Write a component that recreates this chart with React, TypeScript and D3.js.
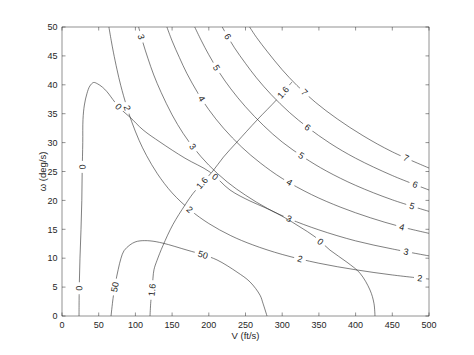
import React from "react";
import * as d3 from "d3";

type Pt = [number, number];

const xTicks = [0, 50, 100, 150, 200, 250, 300, 350, 400, 450, 500];
const yTicks = [0, 5, 10, 15, 20, 25, 30, 35, 40, 45, 50];

// load factor contours (n = 2 .. 7)
const n2: Pt[] = [[63.9, 50], [67, 47.7], [70, 45.65], [75, 42.6], [80, 39.9], [88, 36.3], [95, 33.6], [105, 30.4], [115, 27.8], [130, 24.6], [150, 21.3], [175, 18.3], [200, 16.0], [230, 13.9], [260, 12.3], [300, 10.65], [350, 9.13], [400, 8.0], [450, 7.1], [500, 6.39]];
const n3: Pt[] = [[104.4, 50], [110, 47.4], [117, 44.6], [125, 41.7], [135, 38.7], [150, 34.8], [165, 31.6], [180, 29.0], [200, 26.1], [225, 23.2], [250, 20.9], [280, 18.6], [310, 16.8], [350, 14.9], [400, 13.0], [450, 11.6], [500, 10.4]];
const n4: Pt[] = [[142.9, 50], [150, 47.6], [160, 44.7], [170, 42.0], [185, 38.6], [200, 35.7], [220, 32.5], [245, 29.2], [270, 26.5], [300, 23.8], [340, 21.0], [380, 18.8], [420, 17.0], [460, 15.5], [500, 14.3]];
const n5: Pt[] = [[180.8, 50], [190, 47.6], [200, 45.2], [215, 42.0], [230, 39.3], [250, 36.2], [275, 32.9], [300, 30.1], [330, 27.4], [360, 25.1], [400, 22.6], [450, 20.1], [500, 18.1]];
const n6: Pt[] = [[218.3, 50], [225, 48.5], [235, 46.4], [250, 43.7], [265, 41.2], [285, 38.3], [310, 35.2], [335, 32.6], [365, 29.9], [400, 27.3], [450, 24.3], [500, 21.8]];
const n7: Pt[] = [[255.6, 50], [265, 48.2], [280, 45.7], [300, 42.6], [320, 39.9], [345, 37.0], [375, 34.1], [410, 31.2], [450, 28.4], [500, 25.6]];

// CLmax = 1.6 boundary
const cl16: Pt[] = [[119.9, 0], [121, 2.5], [123, 5], [125.3, 8.0], [129.4, 9.6], [137.6, 12.2], [151, 15.8], [167.6, 19.2], [178.5, 21.2], [190.7, 23.0], [204.4, 24.9], [220, 27.5], [238.4, 30.1], [265.7, 33.9], [293, 37.5], [313.4, 40.5]];

// specific excess power contours (0 and 50)
const ps0: Pt[] = [[23.2, 0], [23.5, 5], [24.5, 10], [25.9, 15], [27, 20], [27.5, 25], [28.3, 30], [28.6, 34], [30.5, 36.5], [34, 38.5], [38, 39.8], [43, 40.4], [48, 40.2], [55, 39.6], [61.3, 38.8], [72, 37.0], [80, 35.8], [92.6, 34.4], [110.4, 32.2], [133.5, 30.1], [167.6, 27.3], [201.6, 24.9], [228.9, 21.8], [256.1, 19.9], [276.6, 18.75], [292, 17.8], [305, 16.9], [324.3, 15.4], [344.7, 13.7], [365.1, 11.4], [388.3, 9.3], [406, 7.4], [419.6, 4.5], [425, 2.2], [426.4, 0]];
const ps50: Pt[] = [[66.8, 0], [69.5, 3], [72.5, 5.5], [76.5, 8.0], [80.4, 10.0], [84.5, 11.3], [92.6, 12.3], [99.5, 12.8], [106.3, 13.0], [119.9, 13.0], [137.6, 12.6], [170.3, 11.4], [192, 10.6], [211.2, 9.7], [238.4, 7.6], [256.1, 5.9], [269.8, 3.6], [273.8, 2.2], [279.3, 0]];

// label anchor positions (V, omega)
const n2Labels: Pt[] = [[88.6, 36.0], [173, 18.3], [324.3, 9.9], [487.7, 6.6]];
const n3Labels: Pt[] = [[107.6, 48.3], [177, 29.2], [309.3, 16.8], [468.7, 11.1]];
const n4Labels: Pt[] = [[188, 37.4], [309.3, 23.0], [463.2, 15.4]];
const n5Labels: Pt[] = [[209.8, 42.9], [325.6, 27.7], [476.8, 19.0]];
const n6Labels: Pt[] = [[224.8, 48.3], [333.8, 32.5], [481, 22.7]];
const n7Labels: Pt[] = [[331, 38.8], [468.7, 27.3]];
const cl16Labels: Pt[] = [[122.5, 4.5], [190.7, 23.0], [301, 38.7]];
const ps0Labels: Pt[] = [[23.4, 4.8], [27.3, 25.8], [77.7, 36.3], [208, 24.0], [352.9, 13.0]];
const ps50Labels: Pt[] = [[72.2, 5.0], [192, 10.6]];

const contourNames = ["2", "3", "4", "5", "6", "7", "1.6", "0", "50"];
const contourPts = [n2, n3, n4, n5, n6, n7, cl16, ps0, ps50];
const contourLabels = [n2Labels, n3Labels, n4Labels, n5Labels, n6Labels, n7Labels, cl16Labels, ps0Labels, ps50Labels];

const W = 474;
const H = 355;
const X0 = 62, X1 = 429, Y0 = 27, Y1 = 316;
const FS = 9;
const TEXT = "#262626";
const LINE = "#2a2a2a";

function textWidth(s: string, fs: number) {
  let w = 0;
  for (const c of s) w += c === "." ? 0.278 : 0.556;
  return w * fs;
}

function nearest(px: Pt[], t: Pt) {
  let best = { d: Infinity, x: 0, y: 0, ang: 0 };
  for (let i = 0; i < px.length - 1; i++) {
    const [ax, ay] = px[i];
    const [bx, by] = px[i + 1];
    const dx = bx - ax, dy = by - ay;
    const L2 = dx * dx + dy * dy || 1;
    let u = ((t[0] - ax) * dx + (t[1] - ay) * dy) / L2;
    u = Math.max(0, Math.min(1, u));
    const qx = ax + u * dx, qy = ay + u * dy;
    const d = Math.hypot(qx - t[0], qy - t[1]);
    if (d < best.d) {
      const p0 = px[Math.max(0, i - (u < 0.5 ? 1 : 0))];
      const p1 = px[Math.min(px.length - 1, i + 1 + (u >= 0.5 ? 1 : 0))];
      let tx = (p1[0] - p0[0]) * 0.5 + dx * 0.5;
      let ty = (p1[1] - p0[1]) * 0.5 + dy * 0.5;
      if (tx < 0) { tx = -tx; ty = -ty; }
      best = { d, x: qx, y: qy, ang: (Math.atan2(ty, tx) * 180) / Math.PI };
    }
  }
  return best;
}

export default function App() {
  const x = d3.scaleLinear().domain([0, 500]).range([X0, X1]);
  const y = d3.scaleLinear().domain([0, 50]).range([Y1, Y0]);
  const line = d3
    .line<Pt>()
    .x((d) => x(d[0]))
    .y((d) => y(d[1]))
    .curve(d3.curveCatmullRom.alpha(0.5));

  const tick = 3.5;

  return (
    <svg
      width={W}
      height={H}
      style={{ position: "absolute", left: 0, top: 0, background: "#fff" }}
      fontFamily="'Liberation Sans', Arial, Helvetica, sans-serif"
    >
      <defs>
        <clipPath id="plotclip">
          <rect x={X0} y={Y0} width={X1 - X0} height={Y1 - Y0} />
        </clipPath>
        {contourPts.map((pts, ci) => {
          const px: Pt[] = pts.map((p) => [x(p[0]), y(p[1])]);
          const name = contourNames[ci];
          const gw = textWidth(name, FS) + 7;
          return (
            <mask id={`m${ci}`} key={ci} maskUnits="userSpaceOnUse" x={0} y={0} width={W} height={H}>
              <rect x={0} y={0} width={W} height={H} fill="#fff" />
              {contourLabels[ci].map((lp, li) => {
                const n = nearest(px, [x(lp[0]), y(lp[1])]);
                return (
                  <rect
                    key={li}
                    x={-gw / 2}
                    y={-FS * 0.6}
                    width={gw}
                    height={FS * 1.2}
                    fill="#000"
                    transform={`translate(${n.x},${n.y}) rotate(${n.ang})`}
                  />
                );
              })}
            </mask>
          );
        })}
      </defs>

      <rect x={0} y={0} width={W} height={H} fill="#fff" />

      <g clipPath="url(#plotclip)">
        {contourPts.map((pts, ci) => (
          <path
            key={ci}
            d={line(pts) || ""}
            fill="none"
            stroke={LINE}
            strokeWidth={0.6}
            mask={`url(#m${ci})`}
          />
        ))}
      </g>

      {contourPts.map((pts, ci) => {
        const px: Pt[] = pts.map((p) => [x(p[0]), y(p[1])]);
        return contourLabels[ci].map((lp, li) => {
          const n = nearest(px, [x(lp[0]), y(lp[1])]);
          return (
            <text
              key={`${ci}-${li}`}
              transform={`translate(${n.x},${n.y}) rotate(${n.ang})`}
              textAnchor="middle"
              dy="0.35em"
              fontSize={FS}
              fill={TEXT}
            >
              {contourNames[ci]}
            </text>
          );
        });
      })}

      <rect x={X0} y={Y0} width={X1 - X0} height={Y1 - Y0} fill="none" stroke={TEXT} strokeWidth={0.5} />

      {xTicks.map((t) => (
        <g key={`xt${t}`}>
          <line x1={x(t)} x2={x(t)} y1={Y1} y2={Y1 - tick} stroke={TEXT} strokeWidth={0.5} />
          <line x1={x(t)} x2={x(t)} y1={Y0} y2={Y0 + tick} stroke={TEXT} strokeWidth={0.5} />
          <text x={x(t)} y={Y1 + 11.8} textAnchor="middle" fontSize={FS} fill={TEXT}>
            {t}
          </text>
        </g>
      ))}
      {yTicks.map((t) => (
        <g key={`yt${t}`}>
          <line x1={X0} x2={X0 + tick} y1={y(t)} y2={y(t)} stroke={TEXT} strokeWidth={0.5} />
          <line x1={X1} x2={X1 - tick} y1={y(t)} y2={y(t)} stroke={TEXT} strokeWidth={0.5} />
          <text x={X0 - 4.5} y={y(t) + 3.2} textAnchor="end" fontSize={FS} fill={TEXT}>
            {t}
          </text>
        </g>
      ))}

      <text x={(X0 + X1) / 2} y={339} textAnchor="middle" fontSize={9.5} fill={TEXT}>
        V (ft/s)
      </text>
      <text transform={`translate(45.5,${(Y0 + Y1) / 2}) rotate(-90)`} textAnchor="middle" fontSize={9.5} fill={TEXT}>
        ω (deg/s)
      </text>
    </svg>
  );
}
